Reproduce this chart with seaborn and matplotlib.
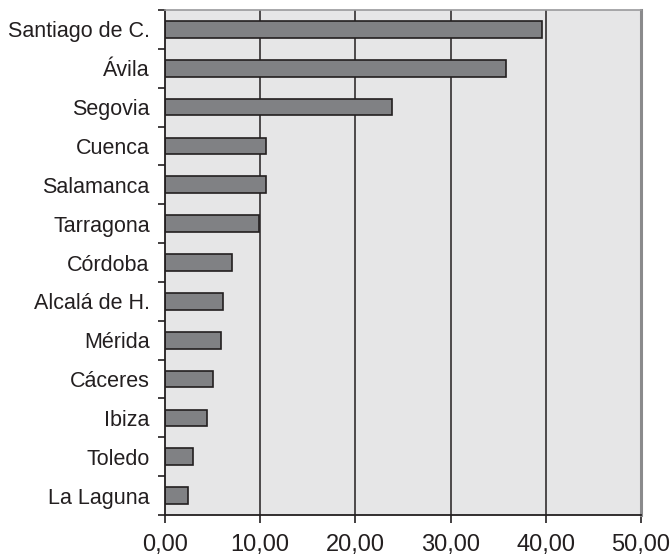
import matplotlib
matplotlib.use("Agg")
import matplotlib.pyplot as plt
import seaborn as sns
import numpy as np
from matplotlib.ticker import FixedLocator

ciudades = ["Santiago de C.", "Ávila", "Segovia", "Cuenca", "Salamanca", "Tarragona",
            "Córdoba", "Alcalá de H.", "Mérida", "Cáceres", "Ibiza", "Toledo", "La Laguna"]
valores = [39.6, 35.8, 23.8, 10.6, 10.6, 9.9, 7.0, 6.1, 5.85, 5.0, 4.4, 2.9, 2.4]
xticks = [0, 10, 20, 30, 40, 50]

sns.set_style("white")
plt.rcParams["font.family"] = ["Liberation Sans", "DejaVu Sans"]

fig = plt.figure(figsize=(6.70, 5.58), dpi=100)
ax = fig.add_axes([0.2463, 0.0771, 0.9567 - 0.2463, 0.982 - 0.0771])
ax.set_facecolor("#e6e6e7")

sns.barplot(x=valores, y=ciudades, orient="h", color="#808184", saturation=1,
            edgecolor="#231f20", linewidth=1.2, width=0.43, ax=ax, zorder=3)

ax.set_xlim(0, 50)
ax.set_ylim(len(ciudades) - 0.5, -0.5)
ax.set_xticks(xticks)
ax.set_xticklabels([f"{v:.2f}".replace(".", ",") for v in xticks],
                   family=["Liberation Sans Narrow", "Liberation Sans"], fontsize=17)
for v in xticks[1:-1]:
    ax.axvline(v, color="#231f20", lw=1.1, zorder=1)

ax.yaxis.set_minor_locator(FixedLocator(np.arange(-0.5, len(ciudades), 1.0)))
ax.tick_params(axis="y", which="major", length=0, pad=11, labelsize=15.5, labelcolor="#231f20")
ax.tick_params(axis="y", which="minor", left=True, length=5, width=1.2, color="#231f20")
ax.tick_params(axis="x", which="major", bottom=True, length=6, width=1.2, color="#231f20",
               pad=8, labelcolor="#231f20")

for lado in ["left", "bottom"]:
    ax.spines[lado].set_color("#231f20")
    ax.spines[lado].set_linewidth(1.3)
ax.spines["top"].set_color("#9a9a9c")
ax.spines["top"].set_linewidth(1.2)
ax.spines["right"].set_color("#8a8a8c")
ax.spines["right"].set_linewidth(2.2)
for s in ax.spines.values():
    s.set_zorder(4)

ax.set_xlabel("")
ax.set_ylabel("")

fig.savefig("out.png", dpi=100, facecolor="white")
